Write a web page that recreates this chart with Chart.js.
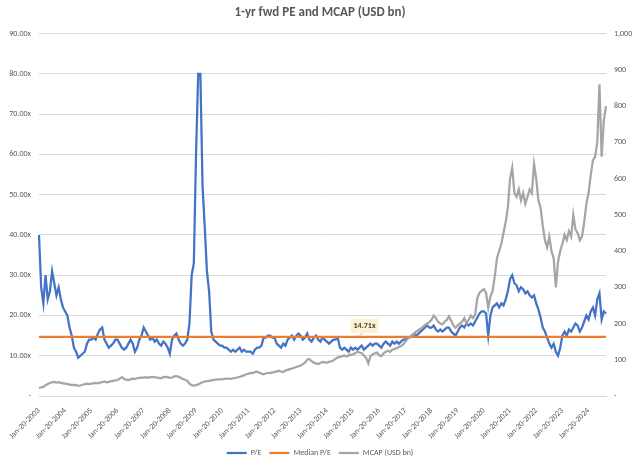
<!DOCTYPE html>
<html>
<head>
<meta charset="utf-8">
<script src="https://cdn.jsdelivr.net/npm/chart.js@4.4.1/dist/chart.umd.min.js"></script>
<style>
  html, body { margin: 0; padding: 0; background: #fff; }
  #wrap { width: 640px; height: 459px; position: relative; }
</style>
</head>
<body>
<div id="wrap"><canvas id="pe_mcap_chart"></canvas></div>
<script>
// monthly readings, Jan 2003 .. Sep 2024
const years = [2003, 2004, 2005, 2006, 2007, 2008, 2009, 2010, 2011, 2012, 2013, 2014,
               2015, 2016, 2017, 2018, 2019, 2020, 2021, 2022, 2023, 2024];
const monthNames = ["Jan", "Feb", "Mar", "Apr", "May", "Jun", "Jul", "Aug", "Sep", "Oct", "Nov", "Dec"];
const lastMonthCount = 9; // data runs to Sep 2024

const peValues = [
    40, 27, 23, 30, 24, 26, 31, 28, 25, 27, 24, 22,            // 2003
    21, 20, 17, 15, 12, 11, 9.5, 10, 10.5, 11, 13, 14,         // 2004
    14, 14.5, 14, 15.5, 16.5, 17, 14, 13, 12, 12.5, 13, 14,    // 2005
    14, 13, 12, 11.5, 12, 13, 14, 13, 11, 12, 14, 15,          // 2006
    17, 16, 15, 14, 14.5, 13.5, 14, 13, 12.5, 13.5, 13, 12,    // 2007
    10.5, 14, 15, 15.5, 14, 13, 12.5, 13, 14, 18, 30, 33,      // 2008
    60, 80, 80, 52, 42, 31, 26, 16, 14, 13.5, 13, 12.5,        // 2009
    12.5, 12, 12, 11.5, 11, 11.5, 11, 11.5, 12, 11, 11.5, 11,  // 2010
    11, 11, 10.5, 11.5, 12, 12, 12.5, 14.5, 14.5, 15, 15, 14.5, // 2011
    14.5, 13, 12.5, 12, 13, 12.5, 14, 14.5, 15, 14, 15, 15.5,  // 2012
    15, 14, 14.5, 15.5, 14, 13.5, 14.5, 15, 14, 13.5, 14.5, 14, // 2013
    13.5, 13, 13.5, 14, 14, 14.5, 12, 11.5, 12, 11.5, 11, 12,  // 2014
    11.5, 12, 11.5, 12, 12.5, 11.5, 12, 12.5, 13, 12.5, 13, 13, // 2015
    12.5, 12, 13, 13.5, 13, 12.5, 13.5, 13, 13.5, 13, 13.5, 14, // 2016
    14, 14.5, 14.5, 15, 15.5, 15, 15.5, 16, 16.5, 17, 17.5, 17, // 2017
    17, 17.5, 16.5, 16, 16.5, 16, 16.5, 17, 17, 16, 15.5, 15,  // 2018
    16, 17, 17.5, 17, 18, 17.5, 18, 17.5, 18.5, 19.5, 20.5, 21, // 2019
    21, 20.5, 15, 20, 22, 22.5, 23, 22, 23, 22.5, 24, 26,      // 2020
    29, 30, 28, 27.5, 26, 27, 26.5, 25.5, 26, 25, 24.5, 25,    // 2021
    23, 21.5, 19.5, 17, 16, 14.5, 13, 12, 13, 11, 10, 12,      // 2022
    15, 16, 15, 16.5, 16, 17, 18, 17.5, 16, 17, 18.5, 20,      // 2023
    19, 21, 22, 20, 24, 25.5, 19, 21, 20.5                     // 2024
];

const mcapValues = [
    22, 24, 25, 30, 33, 36, 38, 39, 37, 38, 36, 35,            // 2003
    34, 33, 32, 30, 31, 30, 28, 29, 31, 33, 34, 33,            // 2004
    34, 35, 36, 35, 37, 38, 40, 38, 39, 41, 42, 43,            // 2005
    44, 48, 52, 47, 45, 44, 46, 48, 47, 49, 50, 51,            // 2006
    51, 52, 50, 52, 53, 52, 51, 50, 49, 52, 53, 52,            // 2007
    50, 51, 54, 55, 53, 50, 47, 45, 42, 34, 30, 29,            // 2008
    30, 32, 35, 38, 40, 41, 42, 43, 44, 45, 46, 46,            // 2009
    46, 47, 48, 48, 47, 49, 50, 51, 53, 55, 57, 60,            // 2010
    61, 64, 63, 66, 67, 64, 62, 60, 62, 64, 63, 65,            // 2011
    66, 68, 70, 67, 66, 70, 72, 74, 76, 78, 80, 82,            // 2012
    84, 88, 92, 100, 102, 96, 92, 90, 88, 91, 94, 93,          // 2013
    92, 94, 96, 98, 103, 106, 108, 110, 112, 109, 112, 114,    // 2014
    115, 118, 122, 120, 118, 112, 105, 90, 110, 115, 118, 120, // 2015
    112, 110, 118, 122, 125, 122, 128, 130, 132, 135, 138, 142, // 2016
    150, 158, 162, 168, 172, 178, 182, 186, 190, 196, 200, 204, // 2017
    210, 222, 215, 205, 200, 198, 205, 210, 220, 208, 195, 188, // 2018
    195, 200, 205, 215, 200, 210, 222, 215, 225, 270, 285, 290, // 2019
    295, 285, 243, 275, 290, 330, 380, 400, 420, 450, 480, 520, // 2020
    600, 630, 560, 550, 570, 540, 560, 530, 550, 570, 560, 640, // 2021
    600, 540, 520, 470, 430, 410, 440, 400, 380, 300, 370, 400, // 2022
    420, 445, 430, 455, 440, 500, 460, 450, 430, 440, 480, 530, // 2023
    560, 610, 650, 660, 700, 860, 660, 760, 800                 // 2024
];

const medianPE = 14.71;
const medianLabelAt = "Apr-20-2015";

const peTicks = { max: 90, step: 10 };
const mcapTicks = { max: 1000, step: 100 };

// category labels, one per month
const labels = [];
years.forEach((y, i) => {
    const n = i === years.length - 1 ? lastMonthCount : 12;
    for (let m = 0; m < n; m++) labels.push(monthNames[m] + "-20-" + y);
});
const medianValues = labels.map(() => medianPE);

const tickFont = { family: "Carlito, Roboto, 'Liberation Sans'", size: 8 };
const greyText = '#595959';

// small call-out box with the median value
const medianCallout = {
    id: 'medianCallout',
    afterDatasetsDraw(chart) {
        const ctx = chart.ctx;
        const x = chart.scales.x.getPixelForValue(labels.indexOf(medianLabelAt));
        const y = chart.scales.y.getPixelForValue(medianPE);
        const bx = x + 5, by = y - 11;
        ctx.save();
        ctx.strokeStyle = '#a6a6a6';
        ctx.lineWidth = 1;
        ctx.beginPath();
        ctx.moveTo(x, y - 1);
        ctx.lineTo(bx - 2, by + 7);
        ctx.stroke();
        ctx.fillStyle = '#fdf1cf';
        ctx.fillRect(bx - 14, by - 7, 28, 14);
        ctx.fillStyle = '#404040';
        ctx.font = "bold 8px Carlito, Roboto, 'Liberation Sans'";
        ctx.textAlign = 'center';
        ctx.textBaseline = 'middle';
        ctx.fillText(medianPE.toFixed(2) + 'x', bx, by);
        ctx.restore();
    }
};

const chartCtx = document.getElementById('pe_mcap_chart').getContext('2d');

const peChart = new Chart(chartCtx, {
    type: 'line',
    data: {
        labels: labels,
        datasets: [{
            label: 'P/E',
            data: peValues,
            borderColor: '#4472C4',
            backgroundColor: '#4472C4',
            borderWidth: 2.25,
            yAxisID: 'y',
            order: 2
        }, {
            label: 'Median P/E',
            data: medianValues,
            borderColor: '#ED7D31',
            backgroundColor: '#ED7D31',
            borderWidth: 2.25,
            yAxisID: 'y',
            order: 1
        }, {
            label: 'MCAP (USD bn)',
            data: mcapValues,
            borderColor: '#A5A5A5',
            backgroundColor: '#A5A5A5',
            borderWidth: 2.25,
            yAxisID: 'y1',
            order: 0
        }]
    },
    options: {
        responsive: true,
        maintainAspectRatio: false,
        animation: false,
        layout: { padding: { left: 0, right: 0, top: 0, bottom: -8 } },
        elements: {
            point: { radius: 0, hoverRadius: 0 },
            line: { tension: 0 }
        },
        plugins: {
            title: {
                display: true,
                text: '1-yr fwd PE and MCAP (USD bn)',
                color: greyText,
                font: { family: "Carlito, Roboto, 'Liberation Sans'", size: 13, weight: 'bold' },
                padding: { top: 5, bottom: 13 }
            },
            legend: {
                position: 'bottom',
                labels: {
                    usePointStyle: true,
                    pointStyle: 'line',
                    pointStyleWidth: 20,
                    color: greyText,
                    font: tickFont,
                    padding: 8,
                    sort: (a, b) => a.datasetIndex - b.datasetIndex
                }
            },
            tooltip: { enabled: false }
        },
        scales: {
            x: {
                type: 'category',
                afterFit: (scale) => { scale.height = 45; },
                grid: { display: false },
                border: { display: true, color: '#D9D9D9' },
                ticks: {
                    autoSkip: false,
                    minRotation: 45,
                    maxRotation: 45,
                    padding: 2,
                    color: greyText,
                    font: tickFont,
                    callback: function(value) {
                        const lab = this.getLabelForValue(value);
                        return lab.startsWith('Jan') ? lab : null;
                    }
                }
            },
            y: {
                position: 'left',
                min: 0,
                max: peTicks.max,
                afterFit: (scale) => { scale.width = 39; },
                grid: { color: '#D9D9D9', drawTicks: false },
                border: { display: false },
                ticks: {
                    stepSize: peTicks.step,
                    padding: 8,
                    color: greyText,
                    font: tickFont,
                    callback: (v) => v === 0 ? '-' : v.toFixed(2) + 'x'
                }
            },
            y1: {
                position: 'right',
                min: 0,
                max: mcapTicks.max,
                afterFit: (scale) => { scale.width = 34; },
                grid: { display: false, drawTicks: false },
                border: { display: false },
                ticks: {
                    stepSize: mcapTicks.step,
                    padding: 8,
                    color: greyText,
                    font: tickFont,
                    callback: (v) => v === 0 ? '-' : v.toLocaleString('en-US')
                }
            }
        }
    },
    plugins: [medianCallout]
});
</script>
</body>
</html>
